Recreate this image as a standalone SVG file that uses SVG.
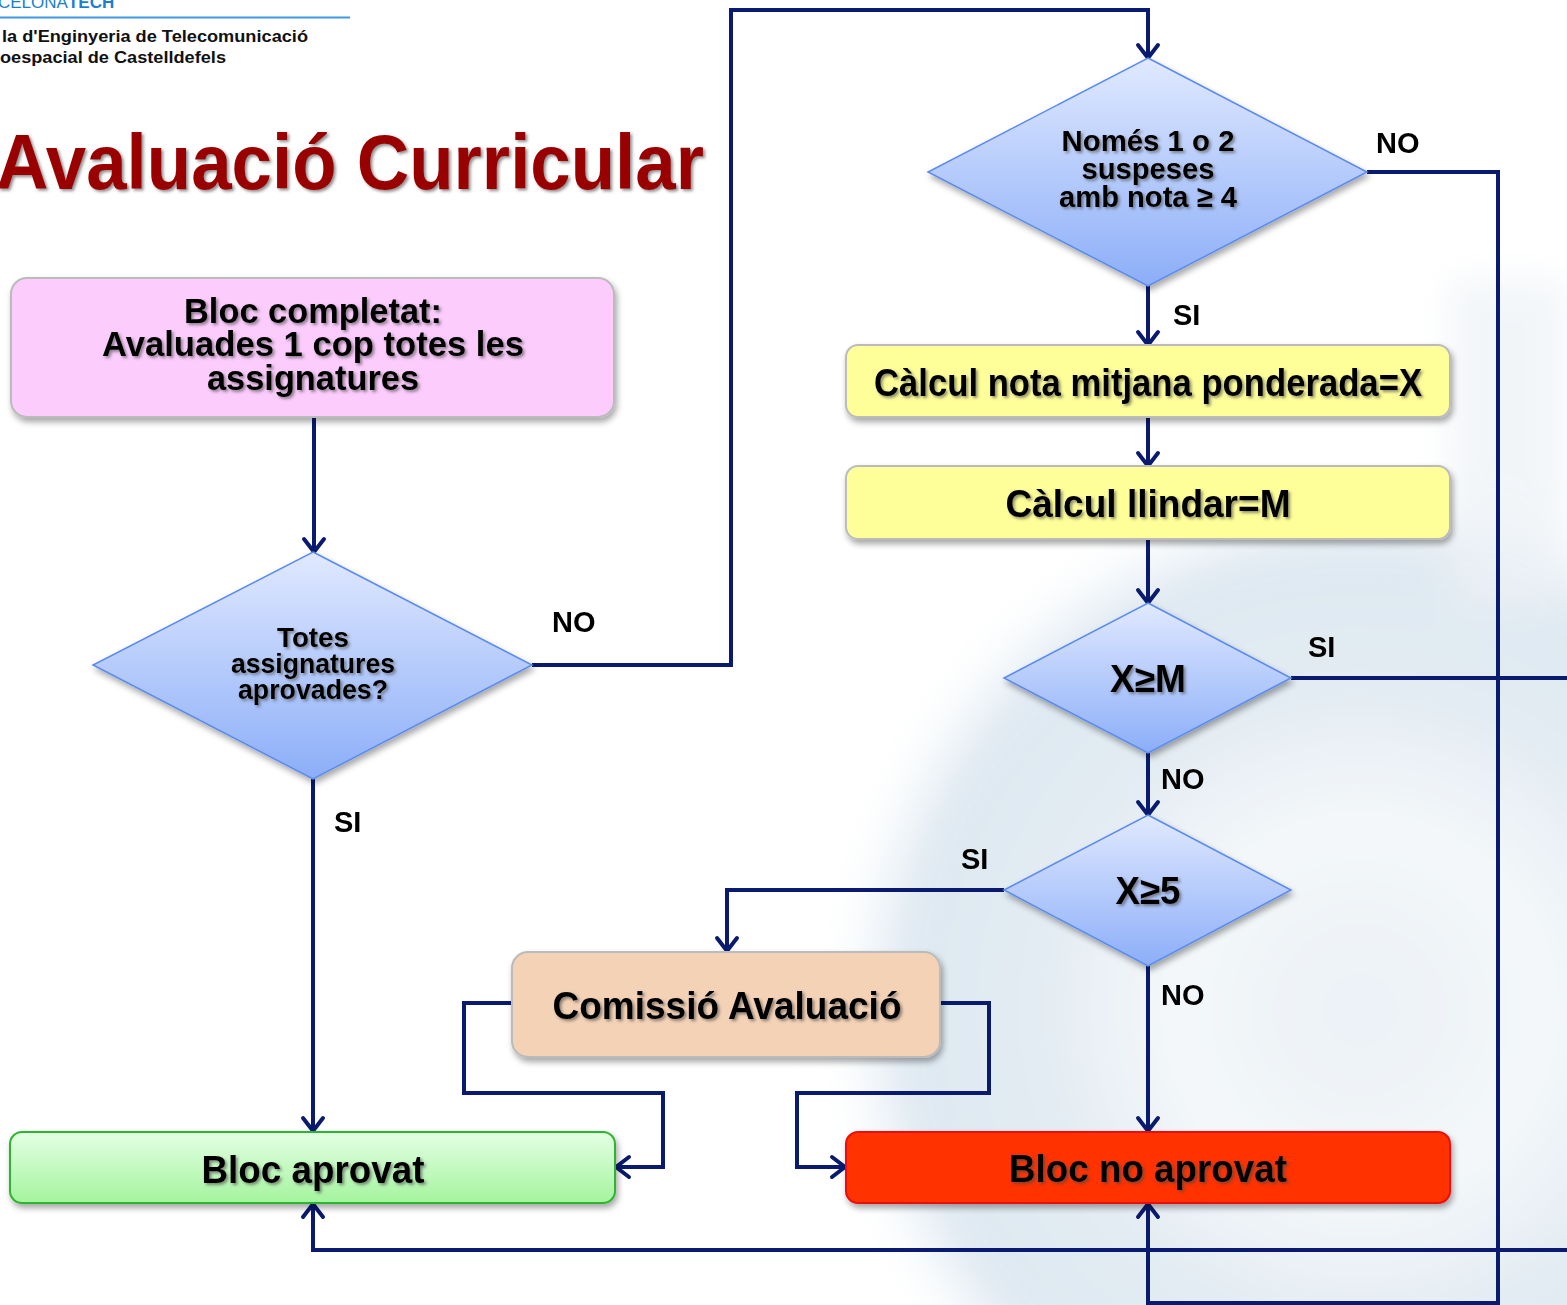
<svg xmlns="http://www.w3.org/2000/svg" width="1567" height="1305" viewBox="0 0 1567 1305">
<defs>
<style>
.t{font-family:"Liberation Sans",Arial,sans-serif;font-weight:bold;fill:#000;text-anchor:middle}
.lbl{font-family:"Liberation Sans",Arial,sans-serif;font-weight:bold;font-size:29px;fill:#000}
.hdr{font-family:"Liberation Sans",Arial,sans-serif;font-weight:bold;font-size:17px;fill:#111}
.c{fill:none;stroke:#0A1A6E;stroke-width:4;stroke-linejoin:miter}
.dia{fill:url(#gDia);stroke:#5A8AF0;stroke-width:1.5}
</style>
<linearGradient id="gDia" x1="0" y1="0" x2="0" y2="1">
<stop offset="0" stop-color="#E0E9FF"/>
<stop offset="1" stop-color="#8CAEF8"/>
</linearGradient>
<linearGradient id="gGreen" x1="0" y1="0" x2="0" y2="1">
<stop offset="0" stop-color="#E4FFE4"/>
<stop offset="1" stop-color="#A4F49E"/>
</linearGradient>
<radialGradient id="gWm" cx="0.5" cy="0.5" r="0.5">
<stop offset="0" stop-color="#E6EEF4"/>
<stop offset="0.35" stop-color="#F2F6F9"/>
<stop offset="0.6" stop-color="#DCE7F0"/>
<stop offset="0.85" stop-color="#D6E3EE"/>
<stop offset="1" stop-color="#FFFFFF" stop-opacity="0"/>
</radialGradient>
<filter id="sh" x="-10%" y="-20%" width="120%" height="150%">
<feDropShadow dx="2" dy="4" stdDeviation="3" flood-color="#000" flood-opacity="0.35"/>
</filter>
<filter id="tsh" x="-10%" y="-30%" width="120%" height="160%">
<feDropShadow dx="2" dy="2" stdDeviation="1.5" flood-color="#444" flood-opacity="0.6"/>
</filter>
<filter id="blur"><feGaussianBlur stdDeviation="18"/></filter>
<marker id="arr" markerUnits="userSpaceOnUse" markerWidth="30" markerHeight="30" viewBox="0 0 30 30" refX="22" refY="15" orient="auto">
<path d="M9,5 L22,15 L9,25" fill="none" stroke="#0A1A6E" stroke-width="4" stroke-linecap="round"/>
</marker>
</defs>

<rect x="0" y="0" width="1567" height="1305" fill="#FFFFFF"/>
<g id="watermark" filter="url(#blur)" opacity="0.8">
<circle cx="1360" cy="1010" r="540" fill="url(#gWm)"/>
<rect x="1450" y="280" width="117" height="330" fill="#E8EEF3" opacity="0.7"/>
</g>

<g id="header">
<text x="-2" y="8" font-family="Liberation Sans,Arial,sans-serif" font-size="17" fill="#1A7FD0">CELONA<tspan font-weight="bold">TECH</tspan></text>
<line x1="0" y1="17.5" x2="350" y2="17.5" stroke="#3A9AE0" stroke-width="2"/>
<text class="hdr" x="2" y="42" textLength="306" lengthAdjust="spacingAndGlyphs">la d'Enginyeria de Telecomunicació</text>
<text class="hdr" x="0" y="63" textLength="226" lengthAdjust="spacingAndGlyphs">oespacial de Castelldefels</text>
</g>

<g id="title" filter="url(#tsh)">
<text x="-4" y="189" font-family="Liberation Sans,Arial,sans-serif" font-weight="bold" font-size="78" fill="#990000" textLength="708" lengthAdjust="spacingAndGlyphs">Avaluació Curricular</text>
</g>

<g id="connectors">
<path class="c" d="M314,417 V552" marker-end="url(#arr)"/>
<path class="c" d="M532,665 H731 V10 H1148 V58" marker-end="url(#arr)"/>
<path class="c" d="M1148,286 V345" marker-end="url(#arr)"/>
<path class="c" d="M1148,417 V466" marker-end="url(#arr)"/>
<path class="c" d="M1148,539 V603" marker-end="url(#arr)"/>
<path class="c" d="M1148,753 V815" marker-end="url(#arr)"/>
<path class="c" d="M1148,966 V1131" marker-end="url(#arr)"/>
<path class="c" d="M1004,890 H727 V951" marker-end="url(#arr)"/>
<path class="c" d="M512,1003 H464 V1093 H663 V1167 H616" marker-end="url(#arr)"/>
<path class="c" d="M940,1003 H989 V1093 H797 V1167 H845" marker-end="url(#arr)"/>
<path class="c" d="M313,779 V1131" marker-end="url(#arr)"/>
<path class="c" d="M1367,172 H1498 V1303 H1148 V1204" marker-end="url(#arr)"/>
<path class="c" d="M1291,678 H1567"/>
<path class="c" d="M1567,1250 H313 V1204" marker-end="url(#arr)"/>
</g>

<g id="labels">
<text class="lbl" x="552" y="632">NO</text>
<text class="lbl" x="334" y="832">SI</text>
<text class="lbl" x="1376" y="153">NO</text>
<text class="lbl" x="1173" y="325">SI</text>
<text class="lbl" x="1308" y="657">SI</text>
<text class="lbl" x="1161" y="789">NO</text>
<text class="lbl" x="961" y="869">SI</text>
<text class="lbl" x="1161" y="1005">NO</text>
</g>

<g id="bloc-completat">
<rect x="11" y="278" width="603" height="139" rx="16" fill="#FCCCFC" stroke="#BBBBBB" stroke-width="2" filter="url(#sh)"/>
<g filter="url(#tsh)">
<text class="t" x="313" y="323" font-size="35" textLength="258" lengthAdjust="spacingAndGlyphs">Bloc completat:</text>
<text class="t" x="313" y="356" font-size="35" textLength="422" lengthAdjust="spacingAndGlyphs">Avaluades 1 cop totes les</text>
<text class="t" x="313" y="390" font-size="35" textLength="212" lengthAdjust="spacingAndGlyphs">assignatures</text>
</g>
</g>

<g id="totes-aprovades">
<polygon class="dia" points="313,552 532,665 313,779 93,665" filter="url(#sh)"/>
<g filter="url(#tsh)">
<text class="t" x="313" y="647" font-size="27" textLength="72" lengthAdjust="spacingAndGlyphs">Totes</text>
<text class="t" x="313" y="673" font-size="27" textLength="164" lengthAdjust="spacingAndGlyphs">assignatures</text>
<text class="t" x="313" y="699" font-size="27" textLength="150" lengthAdjust="spacingAndGlyphs">aprovades?</text>
</g>
</g>

<g id="nomes-suspeses">
<polygon class="dia" points="1148,58 1367,172 1148,286 928,172" filter="url(#sh)"/>
<g filter="url(#tsh)">
<text class="t" x="1148" y="151" font-size="30" textLength="173" lengthAdjust="spacingAndGlyphs">Només 1 o 2</text>
<text class="t" x="1148" y="179" font-size="30" textLength="133" lengthAdjust="spacingAndGlyphs">suspeses</text>
<text class="t" x="1148" y="207" font-size="30" textLength="178" lengthAdjust="spacingAndGlyphs">amb nota ≥ 4</text>
</g>
</g>

<g id="calcul-nota">
<rect x="846" y="345" width="604" height="72" rx="12" fill="#FFFF99" stroke="#BBBBBB" stroke-width="2" filter="url(#sh)"/>
<text class="t" x="1148" y="396" font-size="38" textLength="548" lengthAdjust="spacingAndGlyphs" filter="url(#tsh)">Càlcul nota mitjana ponderada=X</text>
</g>

<g id="calcul-llindar">
<rect x="846" y="466" width="604" height="73" rx="12" fill="#FFFF99" stroke="#BBBBBB" stroke-width="2" filter="url(#sh)"/>
<text class="t" x="1148" y="517" font-size="38" textLength="285" lengthAdjust="spacingAndGlyphs" filter="url(#tsh)">Càlcul llindar=M</text>
</g>

<g id="x-ge-m">
<polygon class="dia" points="1148,603 1291,678 1148,753 1004,678" filter="url(#sh)"/>
<text class="t" x="1148" y="692" font-size="38" textLength="76" lengthAdjust="spacingAndGlyphs" filter="url(#tsh)">X≥M</text>
</g>

<g id="x-ge-5">
<polygon class="dia" points="1148,815 1291,890 1148,966 1004,890" filter="url(#sh)"/>
<text class="t" x="1148" y="904" font-size="38" textLength="65" lengthAdjust="spacingAndGlyphs" filter="url(#tsh)">X≥5</text>
</g>

<g id="comissio">
<rect x="512" y="952" width="428" height="105" rx="16" fill="#F4D2B6" stroke="#BBBBBB" stroke-width="2" filter="url(#sh)"/>
<text class="t" x="727" y="1019" font-size="38" textLength="349" lengthAdjust="spacingAndGlyphs" filter="url(#tsh)">Comissió Avaluació</text>
</g>

<g id="bloc-aprovat">
<rect x="10" y="1132" width="605" height="71" rx="12" fill="url(#gGreen)" stroke="#2DB52D" stroke-width="2" filter="url(#sh)"/>
<text class="t" x="313" y="1183" font-size="38" textLength="223" lengthAdjust="spacingAndGlyphs" filter="url(#tsh)">Bloc aprovat</text>
</g>

<g id="bloc-no-aprovat">
<rect x="846" y="1132" width="604" height="71" rx="12" fill="#FF3300" stroke="#EE0A0A" stroke-width="2" filter="url(#sh)"/>
<text class="t" x="1148" y="1182" font-size="38" textLength="278" lengthAdjust="spacingAndGlyphs" filter="url(#tsh)">Bloc no aprovat</text>
</g>
</svg>
